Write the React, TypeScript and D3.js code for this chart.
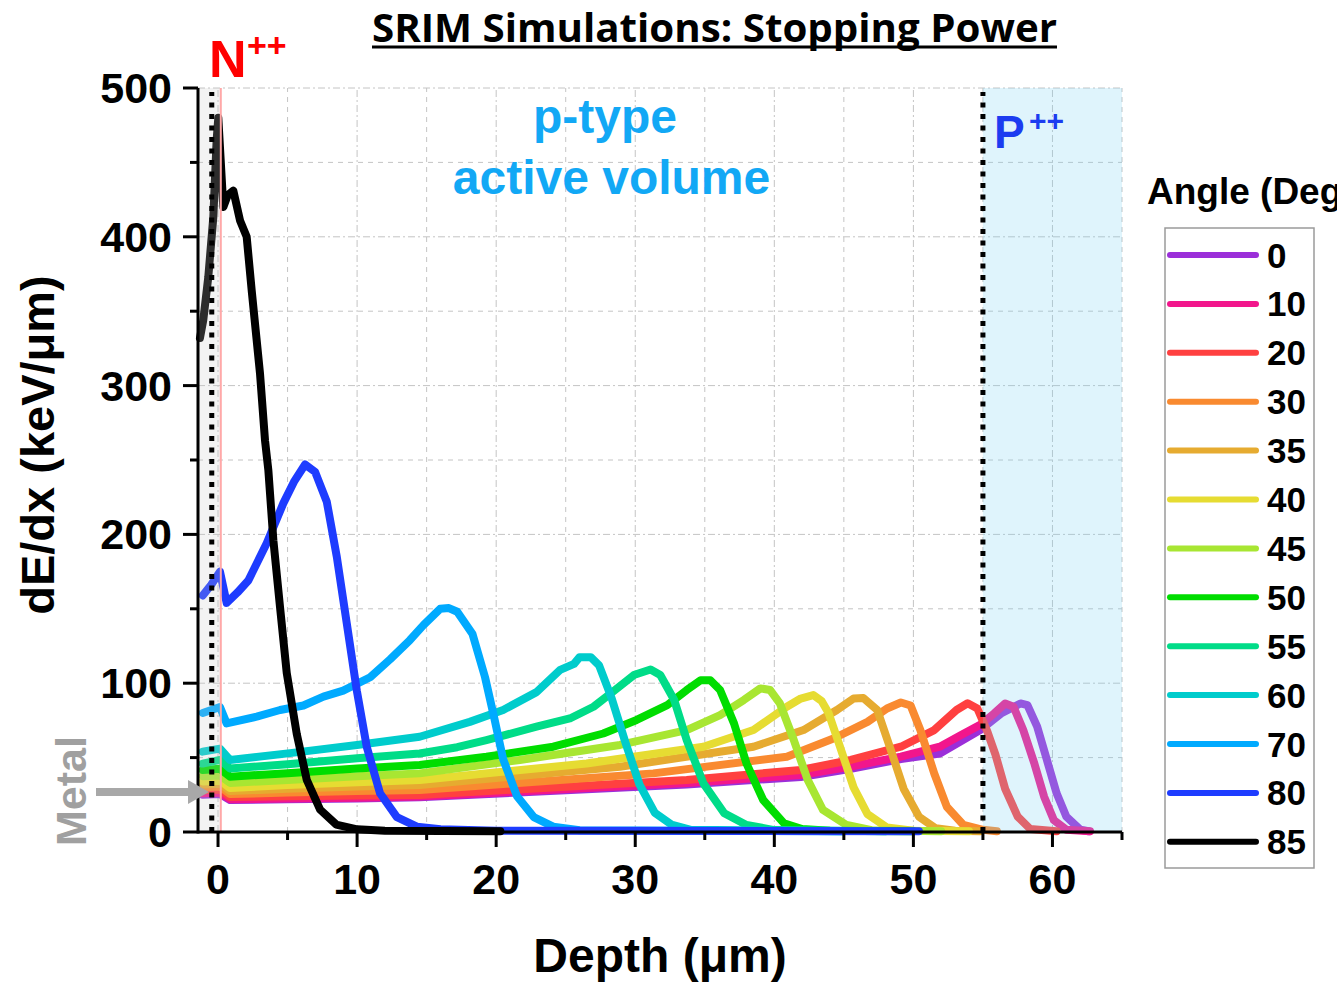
import React from "react";
import * as d3 from "d3";

type Pt = [number, number];

const angles = ["0", "10", "20", "30", "35", "40", "45", "50", "55", "60", "70", "80", "85"];
const colors = ["#9b2fd9", "#f2168c", "#ff4040", "#f98a30", "#e6ab30", "#e6dc32", "#a8e632", "#00dd00", "#00dc88", "#00cccc", "#00aaff", "#1e3cff", "#000000"];

const s0: Pt[] = [[-1.1, 25], [0.14, 25.5], [0.86, 21.5], [5, 22], [10, 22.5], [14.5, 23.3], [33.7, 32], [41.9, 37], [45.5, 42.5], [49.1, 49], [51.9, 52.8], [54.8, 68.5], [56.3, 79.6], [57.7, 86.4], [58.2, 85.3], [58.9, 70.8], [59.6, 48.4], [60.3, 26], [61, 10.3], [62, 1.5], [62.6, 0.5]];
const s10: Pt[] = [[-1.1, 26], [0.14, 26.5], [0.86, 22], [5, 22.5], [10, 23], [14.5, 23.8], [33.7, 33], [41.9, 38.3], [45.5, 44], [49.1, 50.6], [51.9, 57.3], [53.4, 65], [54.8, 72], [55.8, 79.6], [56.6, 86.4], [57.2, 84.2], [57.9, 68.5], [58.7, 46], [59.4, 23.7], [60.1, 8], [61, 1.5], [62.7, 0.5]];
const s20: Pt[] = [[-1.1, 28], [0.14, 28.5], [0.86, 23.5], [5, 24], [10, 24.5], [14.5, 24.9], [33.7, 35], [41.9, 41.7], [45.5, 48.4], [49.1, 57.3], [51.5, 68.5], [53.1, 82], [53.9, 86.5], [54.6, 83], [55.3, 68], [55.9, 52], [56.6, 29], [57.5, 10.3], [58.4, 2], [60.3, 0.5]];
const s30: Pt[] = [[-1.1, 30], [0.14, 30.5], [0.86, 25.5], [5, 26.5], [10, 27.5], [14.5, 28.2], [31.3, 39.4], [40.9, 50.6], [44.3, 63], [46.7, 74], [48.1, 83], [49.1, 87], [49.8, 85], [50.5, 68.5], [51.5, 39.3], [52.4, 17], [53.6, 4.7], [55, 1.5], [56, 0.5]];
const s35: Pt[] = [[-1.1, 32], [0.14, 32.5], [0.86, 27.5], [5, 29], [10, 30.5], [14.5, 31.6], [28.9, 43.9], [38.5, 57.3], [42.1, 68.5], [44.5, 82], [45.7, 89.7], [46.4, 90], [47.4, 82], [48.3, 57.3], [49.3, 29], [50.4, 10.3], [51.6, 2.5], [53, 0.8], [54.8, 0.5]];
const s40: Pt[] = [[-1.1, 34], [0.14, 34.5], [0.86, 29.5], [5, 31.5], [10, 33.5], [14.5, 35], [26.5, 46], [34.9, 57.3], [38.5, 68.5], [40.9, 84.2], [41.9, 89.7], [42.8, 92], [43.4, 88], [43.9, 80], [44.7, 58], [45.7, 30], [46.7, 12], [48.1, 3], [50, 0.8], [54, 0.5]];
const s45: Pt[] = [[-1.1, 37.5], [0.14, 38], [0.86, 33], [5, 35], [10, 37.5], [14.5, 39.4], [21.7, 48.4], [28.9, 58.5], [33.7, 68.5], [36.1, 78.6], [37.8, 88.7], [39, 96.5], [39.7, 95.4], [40.4, 86.4], [41.4, 61.8], [42.4, 35], [43.5, 14.8], [45.2, 4.7], [47, 1.2], [52, 0.5]];
const s50: Pt[] = [[-1.1, 41.7], [0.14, 42.5], [0.86, 37.2], [5, 39.5], [10, 42.7], [14.5, 45], [19.3, 50.6], [24.1, 57.3], [27.7, 66.2], [30.1, 75.3], [32.3, 85.3], [33.7, 95.4], [34.7, 102], [35.4, 102], [36.1, 95.4], [37.1, 73], [38, 46], [39.2, 21.5], [40.7, 5.8], [42, 2], [44, 0.8], [50, 0.5]];
const s55: Pt[] = [[-1.1, 46], [0.14, 48.5], [0.86, 42.7], [5, 45.5], [10, 49.5], [14.5, 52.8], [17.2, 57], [19.3, 61.8], [22.9, 70.8], [25.3, 76.3], [27, 84.2], [28.4, 94.3], [29.9, 105.5], [31.1, 109.2], [31.8, 105.5], [32.8, 88.7], [33.7, 61.8], [34.9, 32.7], [36.4, 12.6], [38, 4.7], [40, 1.3], [48, 0.5]];
const s60: Pt[] = [[-1.1, 54], [0.14, 56], [0.86, 48.4], [5.18, 53], [10, 58.5], [14.5, 64], [18.1, 74], [20.5, 82], [22.9, 94], [24.6, 109], [25.6, 113], [26, 117.5], [26.8, 117.5], [27.4, 112], [28.3, 90], [29.3, 60], [30.3, 32], [31.4, 13], [32.6, 5], [34, 1.5], [45, 0.5]];
const s70: Pt[] = [[-1.1, 80], [0.14, 84], [0.62, 73], [2.78, 77.5], [4.46, 82], [6.14, 85], [7.58, 91], [9, 95], [10.94, 104], [12.37, 116], [13.8, 129], [14.77, 139], [15.97, 150], [16.6, 150.5], [17.2, 148], [18.3, 133], [19.2, 104], [19.9, 75], [20.5, 49], [21.5, 24], [22.7, 10], [24.1, 3.6], [26, 1.2], [45, 0.5]];
const s80: Pt[] = [[-1.1, 159], [-0.5, 166], [0.14, 175], [0.62, 154], [1.4, 161], [2.18, 169], [3.5, 194], [4.7, 221], [5.5, 236], [6.26, 247], [6.98, 242], [7.82, 222], [8.54, 185], [9.26, 140], [9.98, 95], [10.7, 57], [11.65, 26], [12.86, 10], [14.3, 3.6], [16, 1.8], [20, 0.8], [50.4, 0.5]];
const s85: Pt[] = [[-1.3, 332], [-1.06, 344], [-0.7, 373], [-0.34, 413], [-0.1, 465], [0.02, 480], [0.38, 420], [0.7, 428], [1.1, 431], [1.58, 411], [2.06, 400], [2.42, 364], [3.02, 308], [3.38, 263], [3.62, 243], [3.98, 196], [4.46, 151], [4.94, 107], [5.66, 66], [6.38, 35], [7.34, 15], [8.5, 5], [10, 1.8], [12, 0.8], [20.3, 0.5]];

const seriesPoints: Pt[][] = [s0, s10, s20, s30, s35, s40, s45, s50, s55, s60, s70, s80, s85];

const xMajor = [0, 10, 20, 30, 40, 50, 60];
const xMinor = [5, 15, 25, 35, 45, 55, 65];
const yMajor = [0, 100, 200, 300, 400, 500];
const yMinor = [50, 150, 250, 350, 450];

const metalEdge = 0.2;
const metalDotted = -0.45;
const pppStart = 55;

export default function App() {
  const W = 1337, H = 983;
  const x = d3.scaleLinear().domain([-1.44, 65]).range([198, 1122]);
  const y = d3.scaleLinear().domain([0, 500]).range([832, 88]);
  const line = d3.line<Pt>().x(d => x(d[0])).y(d => y(d[1]));
  const bold = "'Liberation Sans', Arial, sans-serif";
  const gridCol = "#c4c4c4";
  const [x0, x1] = x.range();
  const [yb, yt] = y.range();

  return (
    <div style={{ position: "absolute", left: 0, top: 0 }}>
      <svg width={W} height={H} style={{ display: "block", background: "#fff" }}>
        {/* grid */}
        {xMajor.map(v => (
          <line key={"gx" + v} x1={x(v)} x2={x(v)} y1={yb} y2={yt} stroke={gridCol} strokeWidth={1} strokeDasharray="7 3 2 3" />
        ))}
        {xMinor.map(v => (
          <line key={"gxm" + v} x1={x(v)} x2={x(v)} y1={yb} y2={yt} stroke={gridCol} strokeWidth={1} strokeDasharray="5 5" />
        ))}
        {yMajor.filter(v => v > 0).map(v => (
          <line key={"gy" + v} x1={x0} x2={x1} y1={y(v)} y2={y(v)} stroke={gridCol} strokeWidth={1} strokeDasharray="7 3 2 3" />
        ))}
        {yMinor.map(v => (
          <line key={"gym" + v} x1={x0} x2={x1} y1={y(v)} y2={y(v)} stroke={gridCol} strokeWidth={1} strokeDasharray="5 5" />
        ))}

        {/* curves */}
        {seriesPoints.map((pts, i) => (
          <path key={"s" + i} d={line(pts) || ""} fill="none" stroke={colors[i]} strokeWidth={8} strokeLinejoin="round" strokeLinecap="round" />
        ))}

        {/* translucent overlays */}
        <rect x={x0} y={yt} width={x(metalEdge) - x0} height={yb - yt} fill="#c8c8c8" fillOpacity={0.22} />
        <rect x={x(pppStart)} y={yt} width={x(65) - x(pppStart)} height={yb - yt} fill="#7fd4f5" fillOpacity={0.25} />
        <line x1={x(metalEdge)} x2={x(metalEdge)} y1={yb} y2={yt} stroke="#ffa8a8" strokeWidth={2} />

        {/* dotted boundaries */}
        <line x1={x(metalDotted)} x2={x(metalDotted)} y1={yb} y2={yt + 4} stroke="#000" strokeWidth={5} strokeDasharray="5 6.5" />
        <line x1={x(pppStart)} x2={x(pppStart)} y1={yb} y2={yt + 4} stroke="#000" strokeWidth={5} strokeDasharray="5 6.5" />

        {/* axes */}
        <line x1={x0} x2={x1} y1={yb} y2={yb} stroke="#000" strokeWidth={3} />
        <line x1={x0} x2={x0} y1={yb + 1.5} y2={yt} stroke="#000" strokeWidth={3} />
        {xMajor.map(v => (
          <line key={"tx" + v} x1={x(v)} x2={x(v)} y1={yb} y2={yb + 15} stroke="#000" strokeWidth={3} />
        ))}
        {xMinor.map(v => (
          <line key={"txm" + v} x1={x(v)} x2={x(v)} y1={yb} y2={yb + 8} stroke="#000" strokeWidth={3} />
        ))}
        {yMajor.map(v => (
          <line key={"ty" + v} x1={x0 - 15} x2={x0} y1={y(v)} y2={y(v)} stroke="#000" strokeWidth={3} />
        ))}
        {yMinor.map(v => (
          <line key={"tym" + v} x1={x0 - 8} x2={x0} y1={y(v)} y2={y(v)} stroke="#000" strokeWidth={3} />
        ))}
        {xMajor.map(v => (
          <text key={"lx" + v} x={x(v)} y={yb + 62} textAnchor="middle" fontFamily={bold} fontWeight="bold" fontSize={43}>{v}</text>
        ))}
        {yMajor.map(v => (
          <text key={"ly" + v} x={172} y={y(v) + 15} textAnchor="end" fontFamily={bold} fontWeight="bold" fontSize={43}>{v}</text>
        ))}

        {/* axis titles */}
        <text x={660} y={972} textAnchor="middle" fontFamily={bold} fontWeight="bold" fontSize={48}>Depth (μm)</text>
        <text transform="translate(54,445) rotate(-90)" textAnchor="middle" fontFamily={bold} fontWeight="bold" fontSize={47}>dE/dx (keV/μm)</text>

        {/* title */}
        <text x={714.5} y={42} textAnchor="middle" fontFamily="'Open Sans', sans-serif" fontWeight="bold" fontSize={40} textLength={685} lengthAdjust="spacingAndGlyphs">SRIM Simulations: Stopping Power</text>
        <line x1={372} x2={1057} y1={47} y2={47} stroke="#000" strokeWidth={3} />

        {/* annotations */}
        <text x={209} y={77} fontFamily={bold} fontWeight="bold" fontSize={52} fill="#ff0000">N</text>
        <text x={247} y={57} fontFamily={bold} fontWeight="bold" fontSize={34} fill="#ff0000">++</text>
        <text x={994} y={148} fontFamily={bold} fontWeight="bold" fontSize={46} fill="#1c3cf0">P</text>
        <text x={1029} y={131} fontFamily={bold} fontWeight="bold" fontSize={30} fill="#1c3cf0">++</text>
        <text x={605} y={133} textAnchor="middle" fontFamily={bold} fontWeight="bold" fontSize={48} fill="#12a8f5">p-type</text>
        <text x={611.5} y={194} textAnchor="middle" fontFamily={bold} fontWeight="bold" fontSize={48} fill="#12a8f5">active volume</text>

        {/* Metal label and arrow */}
        <text transform="translate(86,791) rotate(-90)" textAnchor="middle" fontFamily={bold} fontWeight="bold" fontSize={43} fill="#a0a0a0">Metal</text>
        <rect x={96} y={788} width={94} height={8} fill="#a8a8a8" />
        <polygon points="188,780 209,792 188,804" fill="#a8a8a8" />

        {/* legend */}
        <text x={1147} y={204} fontFamily={bold} fontWeight="bold" fontSize={37}>Angle (Deg)</text>
        <rect x={1165} y={228} width={149} height={640} fill="#fff" stroke="#9a9a9a" strokeWidth={1.5} />
        {angles.map((a, i) => {
          const ly = 255 + i * 48.9;
          return (
            <g key={"lg" + a}>
              <line x1={1170} x2={1256} y1={ly} y2={ly} stroke={colors[i]} strokeWidth={6} strokeLinecap="round" />
              <text x={1267} y={ly + 12.5} fontFamily={bold} fontWeight="bold" fontSize={35}>{a}</text>
            </g>
          );
        })}
      </svg>
    </div>
  );
}
